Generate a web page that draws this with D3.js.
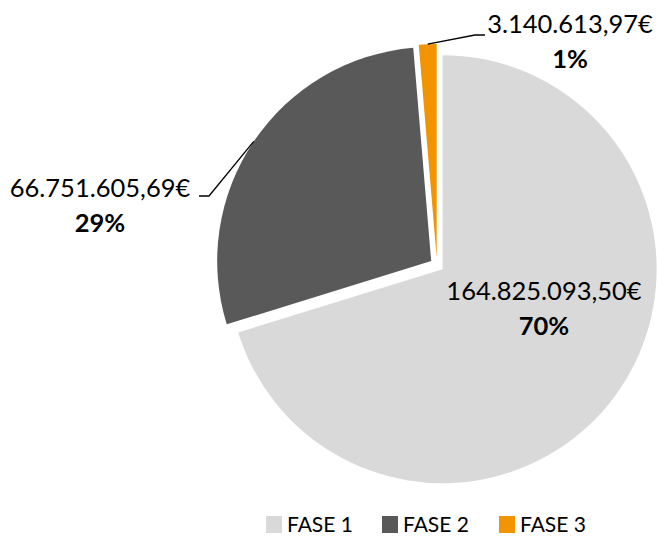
<!DOCTYPE html>
<html>
<head>
<meta charset="utf-8">
<script src="https://cdn.jsdelivr.net/npm/d3@7"></script>
<style>
  html, body { margin: 0; padding: 0; background: #fff; }
  svg { display: block; }
  text { font-family: Lato, "Open Sans", sans-serif; fill: #000; }
</style>
</head>
<body>
<svg id="chart" width="657" height="538"></svg>
<script>
// Funding by phase
const phases = ["FASE 1", "FASE 2", "FASE 3"];
const amounts = [164825093.50, 66751605.69, 3140613.97];
const amountLabels = ["164.825.093,50€", "66.751.605,69€", "3.140.613,97€"];
const percentLabels = ["70%", "29%", "1%"];
const colors = ["#d9d9d9", "#595959", "#f29400"];

const W = 657, H = 538;
const cx = 437, cy = 265, R = 214, explode = 7;

const svg = d3.select("#chart");

const pie = d3.pie().sort(null).value(d => d)(amounts);
const arc = d3.arc().innerRadius(0).outerRadius(R);

const g = svg.append("g").attr("transform", `translate(${cx},${cy})`);

const mid = d => (d.startAngle + d.endAngle) / 2;
const off = d => [explode * Math.sin(mid(d)), -explode * Math.cos(mid(d))];

g.selectAll("path.slice")
  .data(pie)
  .join("path")
  .attr("class", "slice")
  .attr("d", arc)
  .attr("fill", (d, i) => colors[i])
  .attr("transform", d => `translate(${off(d)})`);

// Label placement: label center (value line baseline) and optional leader elbow
const labelLayout = [
  { x: 544, y: 300, leader: null },
  { x: 100, y: 197, leader: { elbow: [209, 196], end: [199, 196] } },
  { x: 570, y: 33,  leader: { elbow: [475, 35], end: [485, 35] } }
];

pie.forEach((d, i) => {
  const L = labelLayout[i];
  if (L.leader) {
    const [ox, oy] = off(d);
    const a = mid(d);
    const sx = cx + ox + R * Math.sin(a);
    const sy = cy + oy - R * Math.cos(a);
    svg.append("polyline")
      .attr("points", [[sx, sy], L.leader.elbow, L.leader.end].map(p => p.join(",")).join(" "))
      .attr("fill", "none")
      .attr("stroke", "#000")
      .attr("stroke-width", 1.3);
  }
  svg.append("text")
    .attr("x", L.x).attr("y", L.y)
    .attr("text-anchor", "middle")
    .attr("font-size", 25.5)
    .text(amountLabels[i]);
  svg.append("text")
    .attr("x", L.x).attr("y", L.y + 35)
    .attr("text-anchor", "middle")
    .attr("font-size", 25.5)
    .attr("font-weight", "bold")
    .text(percentLabels[i]);
});

// Legend
const legendX = [266, 382, 499];
const legend = svg.append("g");
phases.forEach((p, i) => {
  legend.append("rect")
    .attr("x", legendX[i]).attr("y", 516)
    .attr("width", 16).attr("height", 17)
    .attr("fill", colors[i]);
  legend.append("text")
    .attr("x", legendX[i] + 21).attr("y", 532)
    .attr("font-size", 21)
    .text(p);
});
</script>
</body>
</html>
